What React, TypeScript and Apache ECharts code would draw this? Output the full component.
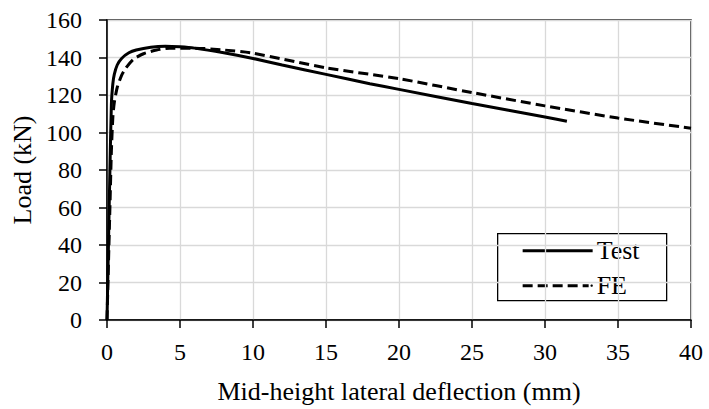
import React, { useEffect, useRef } from "react";
import * as echarts from "echarts";

const testX = [0, 0.1, 0.2, 0.3, 0.4, 0.5, 0.7, 1, 1.5, 2, 3, 4, 5, 6, 8, 10, 12, 15, 18, 20, 25, 30, 31.5];
const testY = [0, 40, 80, 115, 126, 131, 136, 139.5, 142.5, 144, 145.5, 146, 145.7, 145, 142.5, 139.5, 136, 131, 126, 123, 115.5, 108.3, 106];

const feX = [0, 0.1, 0.2, 0.3, 0.4, 0.5, 0.7, 1, 1.3, 1.8, 2.5, 3.4, 4.3, 6, 8, 10, 15, 20, 25, 30, 35, 40];
const feY = [0, 30, 60, 90, 108, 116, 124, 130.5, 134.5, 139, 142, 144, 145, 145, 144, 142.3, 134.5, 128.7, 121.3, 114.2, 107.7, 102.3];

const xTitle = "Mid-height lateral deflection (mm)";
const yTitle = "Load (kN)";
const seriesNames = ["Test", "FE"];

const FONT = "Liberation Serif";

export default function App() {
  const ref = useRef<HTMLDivElement>(null);
  useEffect(() => {
    if (!ref.current) return;
    const chart = echarts.init(ref.current, null, { renderer: "svg" });
    const zip = (xs: number[], ys: number[]) => xs.map((x, i) => [x, ys[i]]);
    chart.setOption({
      animation: false,
      backgroundColor: "#fff",
      textStyle: { fontFamily: FONT },
      grid: {
        left: 107, right: 18, top: 20, bottom: 86,
        show: true, borderColor: "#000", borderWidth: 1.3, backgroundColor: "transparent",
      },
      xAxis: {
        type: "value", min: 0, max: 40, interval: 5,
        name: xTitle, nameLocation: "middle", nameGap: 58,
        nameTextStyle: { fontFamily: FONT, fontSize: 26, color: "#000" },
        axisLine: { lineStyle: { color: "#000", width: 1.5 } },
        axisTick: { show: true, inside: false, length: 8, lineStyle: { color: "#000", width: 1.5 } },
        axisLabel: { fontFamily: FONT, fontSize: 24, color: "#000", margin: 20 },
        splitLine: { show: true, lineStyle: { color: "#d9d9d9", width: 1.3 } },
      },
      yAxis: {
        type: "value", min: 0, max: 160, interval: 20,
        name: yTitle, nameLocation: "middle", nameGap: 72,
        nameTextStyle: { fontFamily: FONT, fontSize: 26, color: "#000" },
        axisLine: { show: true, lineStyle: { color: "#000", width: 1.5 } },
        axisTick: { show: true, inside: false, length: 8, lineStyle: { color: "#000", width: 1.5 } },
        axisLabel: { fontFamily: FONT, fontSize: 24, color: "#000", margin: 25 },
        splitLine: { show: true, lineStyle: { color: "#d9d9d9", width: 1.3 } },
      },
      series: [
        {
          name: seriesNames[0], type: "line", data: zip(testX, testY),
          showSymbol: false, symbol: "none", smooth: 0.2,
          lineStyle: { color: "#000", width: 3 },
        },
        {
          name: seriesNames[1], type: "line", data: zip(feX, feY),
          showSymbol: false, symbol: "none", smooth: 0.2,
          lineStyle: { color: "#000", width: 3, type: [10, 5] },
        },
      ],
      graphic: [
        {
          type: "group", left: 497, top: 233, z: 100,
          children: [
            { type: "rect", shape: { x: 0, y: 0, width: 169, height: 67 }, style: { fill: "#fff", stroke: "#000", lineWidth: 1.3 } },
            { type: "line", shape: { x1: 25, y1: 17, x2: 95, y2: 17 }, style: { stroke: "#000", lineWidth: 3 } },
            { type: "text", x: 99, y: 17, style: { text: seriesNames[0], fontFamily: FONT, fontSize: 26, fill: "#000", verticalAlign: "middle" } },
            { type: "line", shape: { x1: 25, y1: 52, x2: 91, y2: 52 }, style: { stroke: "#000", lineWidth: 3, lineDash: [10, 5] } },
            { type: "circle", shape: { cx: 94, cy: 52, r: 1.2 }, style: { fill: "#000" } },
            { type: "text", x: 99, y: 52, style: { text: seriesNames[1], fontFamily: FONT, fontSize: 26, fill: "#000", verticalAlign: "middle" } },
          ],
        },
      ],
    });
    return () => chart.dispose();
  }, []);
  return <div ref={ref} style={{ position: "fixed", left: 0, top: 0, width: 709, height: 409 }} />;
}
